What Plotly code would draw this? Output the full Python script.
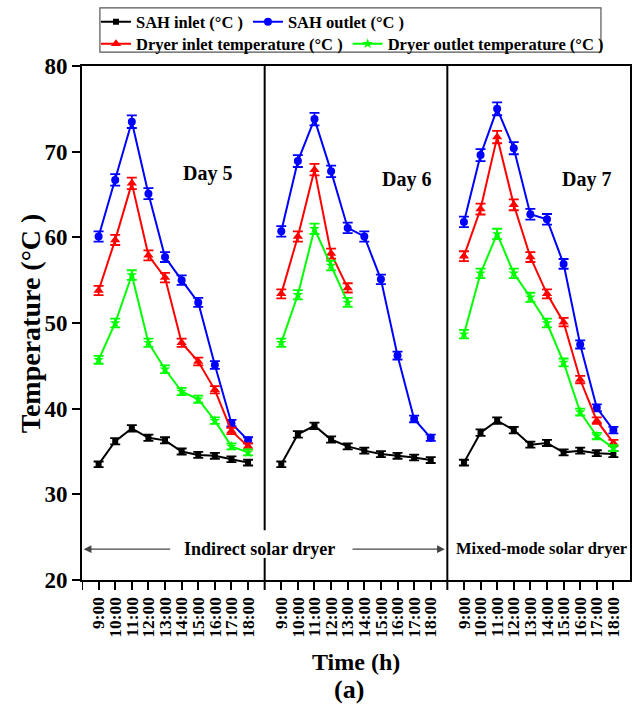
import plotly.graph_objects as go

# Hour labels shared by every day panel
times = ["9:00", "10:00", "11:00", "12:00", "13:00",
         "14:00", "15:00", "16:00", "17:00", "18:00"]
days = ["Day 5", "Day 6", "Day 7"]

# SAH inlet (°C)
sah_inlet_d5 = [33.5, 36.2, 37.7, 36.6, 36.3, 35.0, 34.6, 34.5, 34.1, 33.7]
sah_inlet_d6 = [33.5, 37.0, 38.0, 36.4, 35.6, 35.1, 34.7, 34.5, 34.3, 34.0]
sah_inlet_d7 = [33.7, 37.2, 38.6, 37.5, 35.8, 36.0, 34.9, 35.1, 34.8, 34.7]

# SAH outlet (°C)
sah_outlet_d5 = [60.1, 66.7, 73.5, 65.1, 57.7, 55.0, 52.4, 45.1, 38.3, 36.3]
sah_outlet_d6 = [60.7, 68.9, 73.8, 67.7, 61.1, 60.1, 55.1, 46.2, 38.8, 36.6]
sah_outlet_d7 = [61.8, 69.6, 75.0, 70.4, 62.7, 62.1, 56.9, 47.5, 40.1, 37.5]

# Dryer inlet temperature (°C); day 6 logged until 13:00 only
dryer_inlet_d5 = [53.8, 59.7, 66.3, 57.9, 55.3, 47.7, 45.5, 42.2, 37.4, 35.6]
dryer_inlet_d6 = [53.4, 60.1, 67.9, 58.1, 54.1]
dryer_inlet_d7 = [57.8, 63.3, 71.7, 63.8, 57.7, 53.4, 50.1, 43.4, 38.6, 36.0]

# Dryer outlet temperature (°C); day 6 logged until 13:00 only
dryer_outlet_d5 = [45.7, 50.0, 55.6, 47.7, 44.6, 42.0, 41.1, 38.6, 35.6, 34.9]
dryer_outlet_d6 = [47.7, 53.3, 61.0, 56.7, 52.4]
dryer_outlet_d7 = [48.7, 55.8, 60.4, 55.8, 53.0, 50.0, 45.4, 39.6, 36.8, 35.4]

FONT = "Liberation Serif"
SLOTS = len(times) + 1          # one empty slot separates the day panels
N_UNITS = SLOTS * len(days)     # full x range


def build(series_by_day):
    xs, ys = [], []
    for d, vals in enumerate(series_by_day):
        for i, v in enumerate(vals):
            xs.append(d * SLOTS + 1 + i)
            ys.append(v)
        xs.append(None)
        ys.append(None)
    return xs, ys


series = [
    ("SAH inlet (°C )", [sah_inlet_d5, sah_inlet_d6, sah_inlet_d7],
     "#000000", "square", 6, "legend"),
    ("SAH outlet (°C )", [sah_outlet_d5, sah_outlet_d6, sah_outlet_d7],
     "#0000FF", "circle", 8, "legend"),
    ("Dryer inlet temperature (°C )", [dryer_inlet_d5, dryer_inlet_d6, dryer_inlet_d7],
     "#FF0000", "triangle-up", 9, "legend2"),
    ("Dryer outlet temperature (°C )", [dryer_outlet_d5, dryer_outlet_d6, dryer_outlet_d7],
     "#00FF00", "star", 8, "legend2"),
]

fig = go.Figure()
for name, vals, color, sym, size, leg in series:
    xs, ys = build(vals)
    fig.add_trace(go.Scatter(
        x=xs, y=ys, name=name, mode="lines+markers",
        line=dict(color=color, width=2),
        marker=dict(symbol=sym, size=size, color=color),
        error_y=dict(type="percent", value=1, color=color, thickness=1.8, width=5),
        connectgaps=False, legend=leg,
    ))

tickvals, ticktext = [], []
for d in range(len(days)):
    for i, t in enumerate(times):
        tickvals.append(d * SLOTS + 1 + i)
        ticktext.append(t)

bold = dict(family=FONT, color="black", weight="bold")

fig.update_layout(
    width=633, height=712,
    margin=dict(l=82, r=1, t=66, b=132),
    paper_bgcolor="white", plot_bgcolor="white",
    font=dict(family=FONT, color="black"),
    xaxis=dict(
        range=[0, N_UNITS], tickvals=tickvals, ticktext=ticktext,
        tickangle=-90, tickfont=dict(size=17.5, **bold),
        ticks="outside", ticklen=8, tickwidth=1.5, tickcolor="black",
        showline=True, linecolor="black", linewidth=2, mirror=True,
        showgrid=False, zeroline=False,
    ),
    yaxis=dict(
        range=[20, 80], dtick=10, tickfont=dict(size=23, **bold),
        ticks="outside", ticklen=8, tickwidth=1.5, tickcolor="black",
        showline=True, linecolor="black", linewidth=2, mirror=True,
        showgrid=False, zeroline=False,
    ),
    legend=dict(orientation="h", x=0.0255, y=1.0856, xanchor="left", yanchor="middle",
                font=dict(size=16.5, **bold), bgcolor="rgba(0,0,0,0)", borderwidth=0,
                itemwidth=30),
    legend2=dict(orientation="h", x=0.0255, y=1.0428, xanchor="left", yanchor="middle",
                 font=dict(size=16.5, **bold), bgcolor="rgba(0,0,0,0)", borderwidth=0,
                 itemwidth=30),
)

# Legend frame
fig.add_shape(type="rect", xref="paper", yref="paper",
              x0=0.0327, x1=0.947, y0=1.027, y1=1.113,
              line=dict(color="#555555", width=1.2))

# Panel dividers (the first one is interrupted by the label text)
tick_below = -10 / 514
fig.add_shape(type="line", xref="x", yref="paper", x0=SLOTS, x1=SLOTS,
              y0=0.097, y1=1, line=dict(color="black", width=2))
fig.add_shape(type="line", xref="x", yref="paper", x0=SLOTS, x1=SLOTS,
              y0=tick_below, y1=0.043, line=dict(color="black", width=2))
fig.add_shape(type="line", xref="x", yref="paper", x0=2 * SLOTS, x1=2 * SLOTS,
              y0=tick_below, y1=1, line=dict(color="black", width=2))
fig.add_shape(type="line", xref="x", yref="paper", x0=0, x1=0,
              y0=tick_below, y1=0, line=dict(color="black", width=2))

# Day labels
for d, (dx, dy) in enumerate([(7.56, 67.5), (19.54, 66.7), (30.36, 66.8)]):
    fig.add_annotation(x=dx, y=dy, xref="x", yref="y", text=days[d],
                       showarrow=False, font=dict(size=20, **bold))

# Dryer type labels and arrows
fig.add_annotation(x=10.68, y=23.6, xref="x", yref="y", text="Indirect solar dryer",
                   showarrow=False, font=dict(size=18, **bold))
fig.add_annotation(x=27.66, y=23.7, xref="x", yref="y", text="Mixed-mode solar dryer",
                   showarrow=False, font=dict(size=16.5, **bold))
for x_tail, x_tip in [(5.4, 0.1), (16.2, 21.85)]:
    fig.add_annotation(x=x_tip, y=23.6, ax=x_tail, ay=23.6, xref="x", yref="y",
                       axref="x", ayref="y", text="", showarrow=True,
                       arrowhead=2, arrowsize=1.2, arrowwidth=1.3, arrowcolor="#444444")

# Axis titles
fig.add_annotation(x=(30 - 82) / 550, y=0.5, xref="paper", yref="paper",
                   xanchor="center", yanchor="middle",
                   text="Temperature (°C )", textangle=-90, showarrow=False,
                   font=dict(size=28, **bold))
fig.add_annotation(x=0.5, y=-0.1595, xref="paper", yref="paper", text="Time (h)",
                   xanchor="center", yanchor="middle",
                   showarrow=False, font=dict(size=24, **bold))
fig.add_annotation(x=0.487, y=-0.214, xref="paper", yref="paper", text="(a)",
                   xanchor="center", yanchor="middle",
                   showarrow=False, font=dict(size=26, **bold))

fig.write_html("out.html")
